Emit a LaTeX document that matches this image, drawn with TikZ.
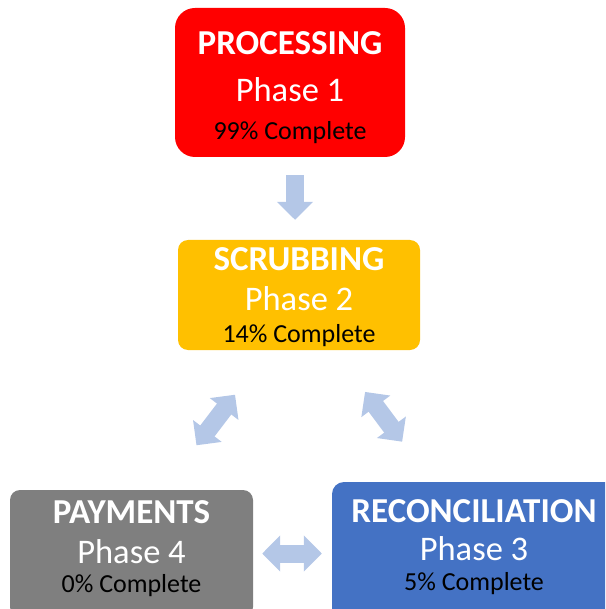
\documentclass[tikz,border=0pt]{standalone}
\usepackage{fontspec}
\setmainfont{Carlito}
\usetikzlibrary{arrows.meta}

\definecolor{procred}{HTML}{FF0000}
\definecolor{scrubgold}{HTML}{FFC000}
\definecolor{paygray}{HTML}{7F7F7F}
\definecolor{reconblue}{HTML}{4472C4}
\definecolor{flowblue}{HTML}{B4C7E7}

\begin{document}
\begin{tikzpicture}[x=1pt, y=-1pt,
    phasebox/.style={inner sep=0pt, draw=none},
    ttl/.style={anchor=base, inner sep=0pt, text=white, font=\fontsize{35}{35}\selectfont\bfseries},
    phs/.style={anchor=base, inner sep=0pt, text=white, font=\fontsize{34.5}{34.5}\selectfont},
    pct/.style={anchor=base, inner sep=0pt, text=black, font=\fontsize{26}{26}\selectfont},
    flowone/.style={draw=flowblue, line width=18pt, -{Triangle[width=35pt,length=18pt]}},
    flow/.style={draw=flowblue, line width=18pt, {Triangle[width=35pt,length=18pt]}-{Triangle[width=35pt,length=18pt]}}
]
        \useasboundingbox (0,0) rectangle (605,609);
        \clip (0,0) rectangle (605,609);

        % phase boxes
        \node[phasebox, fill=procred, rounded corners=20pt, minimum width=230pt, minimum height=149pt] (proc) at (290,82.5) {};
        \node[phasebox, fill=scrubgold, rounded corners=10pt, minimum width=242pt, minimum height=110pt] (scrub) at (299,295) {};
        \node[phasebox, fill=paygray, rounded corners=10pt, minimum width=243pt, minimum height=127pt] (pay) at (131.5,553.5) {};
        \node[phasebox, fill=reconblue, rounded corners=12pt, minimum width=284pt, minimum height=143pt] (recon) at (474,553.5) {};

        % texts
        \node[ttl] (proct) at (290,55) {PROCESSING};
        \node[phs] (procp) at (290,102) {Phase 1};
        \node[pct] (procc) at (290,140) {99\% Complete};

        \node[ttl] (scrubt) at (299,270) {SCRUBBING};
        \node[phs] (scrubp) at (299,310) {Phase 2};
        \node[pct] (scrubc) at (299,342) {14\% Complete};

        \node[ttl] (payt) at (131.5,523) {PAYMENTS};
        \node[phs] (payp) at (131.5,563) {Phase 4};
        \node[pct] (payc) at (131.5,592) {0\% Complete};

        \node[ttl] (recont) at (474,522) {RECONCILIATION};
        \node[phs] (reconp) at (474,560) {Phase 3};
        \node[pct] (reconc) at (474,590) {5\% Complete};

        % arrows between phases
        \draw[flowone, shorten <=18pt, shorten >=20pt] ([xshift=5pt]proc.south) -- ([xshift=-4pt]scrub.north);
        \draw[flow, shorten <=56pt, shorten >=56pt] ([xshift=-30pt]scrub.south) -- ([xshift=31pt]pay.north);
        \draw[flow, shorten <=52pt, shorten >=50pt] ([xshift=35pt]scrub.south) -- ([xshift=-42pt]recon.north);
        \draw[flow, shorten <=9pt, shorten >=10pt] (pay.east) -- (pay.east -| recon.west);
    \end{tikzpicture}
\end{document}
